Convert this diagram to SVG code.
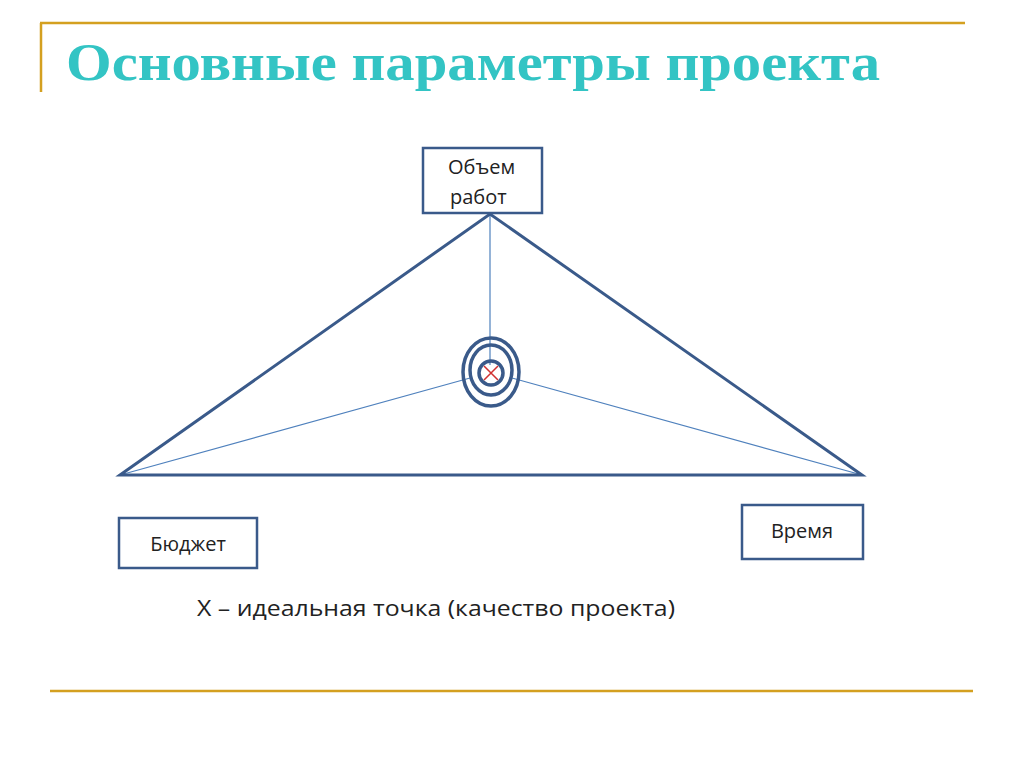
<svg xmlns="http://www.w3.org/2000/svg" width="1024" height="767" viewBox="0 0 1024 767">
<style>
.box{fill:#fff;stroke:#3a5a8a;stroke-width:2.5}
.lbl{font-family:"Open Sans","Liberation Sans",sans-serif;font-size:20px;fill:#222}
.thin{stroke:#4f81bd;stroke-width:1.2;fill:none}
.gold{stroke:#d4a020;stroke-width:2.5;fill:none}
</style>
<rect width="1024" height="767" fill="#fff"/>
<path class="gold" d="M40 23H965M41 23V92M50 691H973"/>
<text x="66" y="80" font-family="Liberation Serif,serif" font-weight="bold" font-size="52" fill="#33c4c4" textLength="814" lengthAdjust="spacingAndGlyphs">Основные параметры проекта</text>
<g id="connectors">
<path class="thin" d="M490 214V365M120 475L470 378M862 475L512 378"/>
<path d="M120 475L490 214L862 475Z" fill="none" stroke="#3a5a8a" stroke-width="3"/>
</g>
<g id="target" fill="none" stroke="#3a5a8a" stroke-width="3.5">
<ellipse cx="491" cy="372" rx="28" ry="34"/>
<ellipse cx="491" cy="370" rx="21" ry="25"/>
<circle cx="491" cy="373" r="12"/>
<path d="M484 366L498 380M498 366L484 380" stroke="#d03030" stroke-width="1.5"/>
</g>
<g id="n1"><rect class="box" x="423" y="148" width="119" height="65"/><text class="lbl" x="448" y="174">Объем</text><text class="lbl" x="450" y="204">работ</text></g>
<g id="n2"><rect class="box" x="119" y="518" width="138" height="50"/><text class="lbl" x="188" y="551" text-anchor="middle">Бюджет</text></g>
<g id="n3"><rect class="box" x="742" y="505" width="121" height="54"/><text class="lbl" x="802" y="538" text-anchor="middle">Время</text></g>
<text x="197" y="616" font-family="Open Sans,Liberation Sans,sans-serif" font-size="21" fill="#222" textLength="478" lengthAdjust="spacingAndGlyphs">X – идеальная точка (качество проекта)</text>
</svg>
